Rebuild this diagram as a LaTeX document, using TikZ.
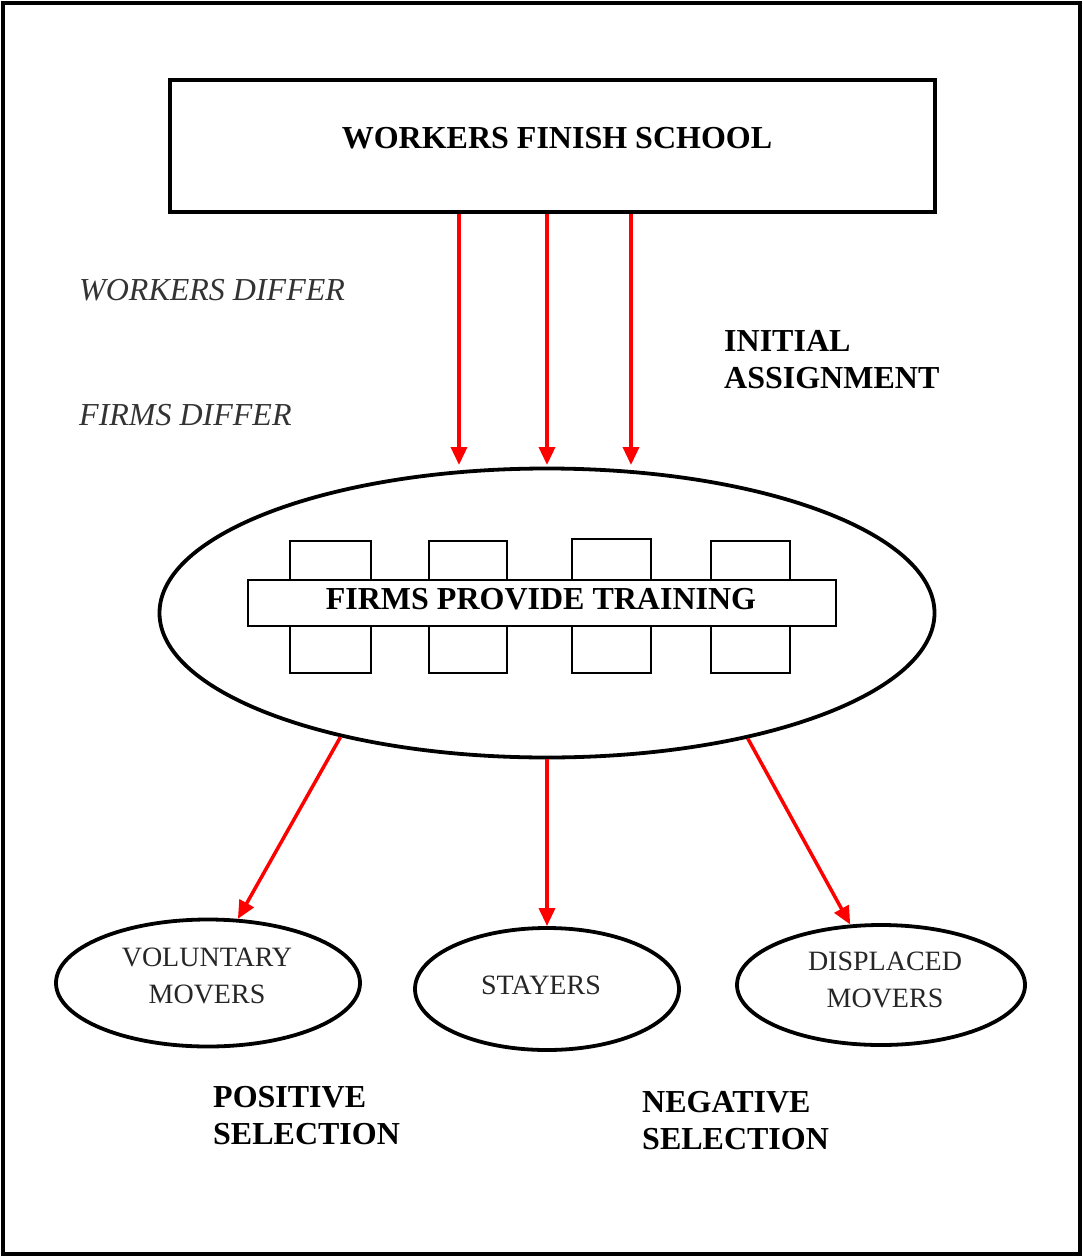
\documentclass[tikz,border=0pt]{standalone}
\usepackage{fontspec}
\setmainfont{Liberation Serif}
\usetikzlibrary{shapes.geometric,arrows.meta,calc}
\begin{document}
\begin{tikzpicture}[x=1pt,y=-1pt,
  frame/.style={draw,line width=3.8pt},
  thin box/.style={draw,line width=1.6pt,inner sep=0pt},
  oval/.style={ellipse,draw,line width=3.8pt,inner sep=0pt},
  arr/.style={red,line width=3.5pt,-{Triangle[width=16pt,length=18pt]}},
  boldtxt/.style={font=\fontsize{32}{37}\selectfont\bfseries,inner sep=0pt},
  itltxt/.style={font=\fontsize{32}{37}\selectfont\itshape,text=black!80,inner sep=0pt},
  regtxt/.style={font=\fontsize{28}{37}\selectfont,align=center,text=black!85,inner sep=0pt}]
\useasboundingbox (0,0) rectangle (1083,1257);
\draw[line width=3.5pt] (3,3) rectangle (1080,1254);

% top box
\node[frame,minimum width=765pt,minimum height=132pt,inner sep=0pt] (top) at (552.5,146) {};
\node[boldtxt] (toptext) at (557,138) {WORKERS FINISH SCHOOL};

% side labels
\node[itltxt,anchor=west] (wd) at (79,290) {WORKERS DIFFER};
\node[itltxt,anchor=west] (fd) at (79,415) {FIRMS DIFFER};
\node[boldtxt,anchor=west,align=left] (ia) at (724,360) {INITIAL\\ASSIGNMENT};

% big ellipse
\node[oval,minimum width=775pt,minimum height=289pt] (big) at (547,613) {};

% columns
\node[thin box,minimum width=81pt,minimum height=132pt] (c1) at (330.5,607) {};
\node[thin box,minimum width=78pt,minimum height=132pt] (c2) at (468,607) {};
\node[thin box,minimum width=79pt,minimum height=134pt] (c3) at (611.5,606) {};
\node[thin box,minimum width=79pt,minimum height=132pt] (c4) at (750.5,607) {};
\node[thin box,fill=white,minimum width=588pt,minimum height=46pt] (bar) at (542,603) {};
\node[boldtxt] (bartext) at (541,599) {FIRMS PROVIDE TRAINING};

% top arrows
\coordinate (t1) at (459,465);
\coordinate (t2) at (547,465);
\coordinate (t3) at (631,465);
\draw[arr] (top.south -| t1) -- (t1);
\draw[arr] (top.south -| t2) -- (t2);
\draw[arr] (top.south -| t3) -- (t3);

% lower ellipses
\node[oval,minimum width=304pt,minimum height=127pt] (vol) at (208,983) {};
\node[oval,minimum width=264pt,minimum height=122pt] (sta) at (547,989) {};
\node[oval,minimum width=288pt,minimum height=120pt] (dis) at (881,985) {};
\node[regtxt] (voltext) at (207,976) {VOLUNTARY\\MOVERS};
\node[regtxt] (statext) at (541,985) {STAYERS};
\node[regtxt] (distext) at (885,979.5) {DISPLACED\\MOVERS};

% lower arrows
\draw[arr] (big.211.7) -- (vol.65);
\draw[arr] (big.south) -- (sta.north);
\draw[arr] (big.328.6) -- (dis.117);

% bottom labels
\node[boldtxt,anchor=west,align=left] (pos) at (213,1116) {POSITIVE\\SELECTION};
\node[boldtxt,anchor=west,align=left] (neg) at (642,1121) {NEGATIVE\\SELECTION};
\end{tikzpicture}
\end{document}
